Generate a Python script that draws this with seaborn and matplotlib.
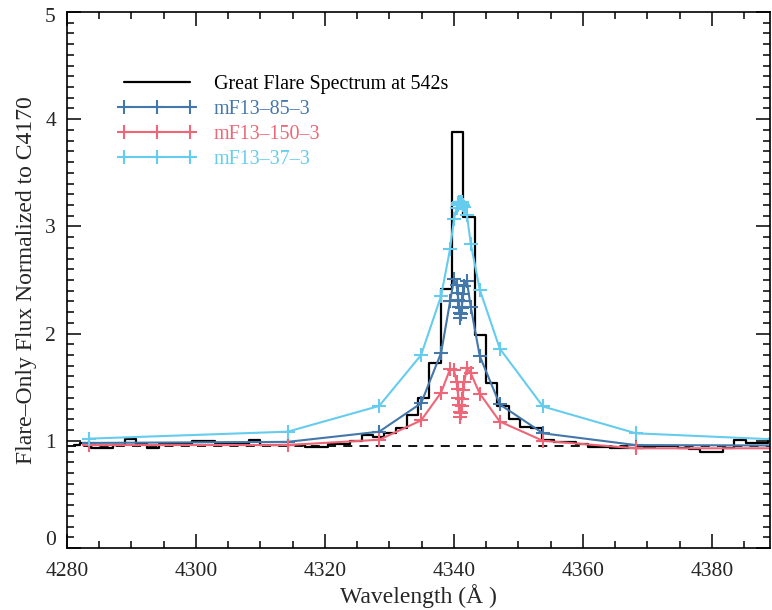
import numpy as np
import pandas as pd
import seaborn as sns
import matplotlib.pyplot as plt
import matplotlib.transforms as mtransforms
from matplotlib.ticker import MultipleLocator

# observed spectrum (bin centres, Angstrom) and flare-only flux
spec_wave = [4281.08, 4282.83, 4284.58, 4286.33, 4288.08, 4289.83, 4291.58, 4293.33,
             4295.08, 4296.83, 4298.58, 4300.33, 4302.08, 4303.83, 4305.58, 4307.33,
             4309.08, 4310.83, 4312.58, 4314.33, 4316.08, 4317.83, 4319.58, 4321.33,
             4323.08, 4324.83, 4326.58, 4328.33, 4330.08, 4331.83, 4333.58, 4335.33,
             4337.08, 4338.83, 4340.58, 4342.33, 4344.08, 4345.83, 4347.58, 4349.33,
             4351.08, 4352.83, 4354.58, 4356.33, 4358.08, 4359.83, 4361.58, 4363.33,
             4365.08, 4366.83, 4368.58, 4370.33, 4372.08, 4373.83, 4375.58, 4377.33,
             4379.08, 4380.83, 4382.58, 4384.33, 4386.08, 4387.83, 4389.58]
spec_flux = [0.96, 0.98, 0.93, 0.93, 0.96, 1.02, 0.97, 0.93, 0.97, 0.97, 0.97, 1.00,
             1.00, 0.98, 0.98, 0.97, 1.01, 0.96, 0.96, 0.96, 0.96, 0.945, 0.945, 0.97,
             0.97, 1.00, 1.05, 1.04, 1.07, 1.12, 1.24, 1.40, 1.73, 2.42, 3.88, 3.09,
             1.99, 1.54, 1.32, 1.20, 1.13, 1.12, 1.01, 0.99, 0.99, 0.97, 0.945, 0.945,
             0.93, 0.93, 0.935, 0.94, 0.95, 0.95, 0.93, 0.92, 0.90, 0.90, 0.93, 1.01,
             0.98, 0.98, 1.02]
continuum_level = 0.95

# model wavelength grid and fluxes
model_wave = [4283.4, 4314.2, 4328.4, 4334.9, 4338.0, 4339.4, 4340.0, 4340.4, 4340.55,
              4340.7, 4340.8, 4340.9, 4341.0, 4341.1, 4341.2, 4341.3, 4341.45, 4341.6,
              4342.0, 4342.6, 4344.0, 4347.1, 4353.8, 4368.2, 4398.5]
flux_85 = [0.98, 0.99, 1.085, 1.35, 1.82, 2.30, 2.51, 2.45, 2.38, 2.31, 2.25, 2.19, 2.15,
           2.18, 2.24, 2.30, 2.37, 2.44, 2.49, 2.25, 1.79, 1.34, 1.07, 0.96, 0.955]
flux_150 = [0.96, 0.96, 1.01, 1.19, 1.45, 1.67, 1.66, 1.55, 1.48, 1.40, 1.33, 1.27, 1.22,
            1.26, 1.32, 1.39, 1.47, 1.55, 1.68, 1.63, 1.44, 1.18, 1.00, 0.93, 0.93]
flux_37 = [1.02, 1.085, 1.325, 1.80, 2.35, 2.79, 3.07, 3.17, 3.20, 3.22, 3.23, 3.23, 3.22,
           3.23, 3.23, 3.22, 3.20, 3.18, 3.11, 2.84, 2.41, 1.86, 1.32, 1.07, 0.99]

models = {
    "mF13–85–3": (flux_85, "#4477AA"),
    "mF13–150–3": (flux_150, "#EE6677"),
    "mF13–37–3": (flux_37, "#66CCEE"),
}

sns.set_style("ticks")
plt.rcParams['font.family'] = ['Liberation Serif', 'DejaVu Serif']

fig = plt.figure(figsize=(7.72, 6.10), dpi=100)
ax = fig.add_axes([67 / 772, 1 - 548 / 610, 703 / 772, 536 / 610])

sns.lineplot(x=spec_wave, y=spec_flux, ax=ax, color="black", lw=1.6,
             drawstyle="steps-mid", estimator=None, sort=True,
             label="Great Flare Spectrum at 542s")
ax.axhline(continuum_level, color="black", ls=(0, (5, 4)), lw=1.3)

for name, (flux, col) in models.items():
    df = pd.DataFrame({"wave": model_wave, "flux": flux})
    sns.lineplot(data=df, x="wave", y="flux", ax=ax, color=col, lw=1.5,
                 marker="+", markersize=10, markeredgewidth=1.5,
                 markeredgecolor=col, markerfacecolor=col,
                 estimator=None, label=name)

ax.set_xlim(4280, 4389)
ax.set_ylim(0, 5)
ax.xaxis.set_major_locator(MultipleLocator(20))
ax.xaxis.set_minor_locator(MultipleLocator(5))
ax.yaxis.set_major_locator(MultipleLocator(1))
ax.yaxis.set_minor_locator(MultipleLocator(0.1))
ax.tick_params(which="both", direction="in", top=True, right=True,
               labelsize=15.5, width=1.1, color="black")
ax.tick_params(which="major", length=10)
ax.tick_params(which="minor", length=5)
ax.tick_params(axis="x", which="major", pad=10)
ax.tick_params(axis="y", which="major", pad=8)
for sp in ax.spines.values():
    sp.set_linewidth(1.2)
    sp.set_color("black")

# lift the "0" label like the original, which sits above the x labels
fig.canvas.draw()
for tick in ax.yaxis.get_major_ticks():
    loc = tick.get_loc()
    if abs(loc) < 1e-9:
        shift = 10
    elif abs(loc - 5) < 1e-9:
        shift = -3
    else:
        continue
    tick.label1.set_transform(tick.label1.get_transform() +
                              mtransforms.ScaledTranslation(0, shift / 100, fig.dpi_scale_trans))

ax.set_xlabel("Wavelength (Å )", fontsize=17, labelpad=2)
ax.set_ylabel("Flare–Only Flux Normalized to C4170", fontsize=17, labelpad=6)

leg = ax.legend(loc="upper left", bbox_to_anchor=((118 - 67) / 703, (548 - 75) / 536),
                frameon=False, fontsize=14.4, numpoints=3, handlelength=3.9,
                handletextpad=0.9, labelspacing=0.3, borderpad=0, borderaxespad=0,
                labelcolor="linecolor")

fig.savefig("out.png", dpi=100)
